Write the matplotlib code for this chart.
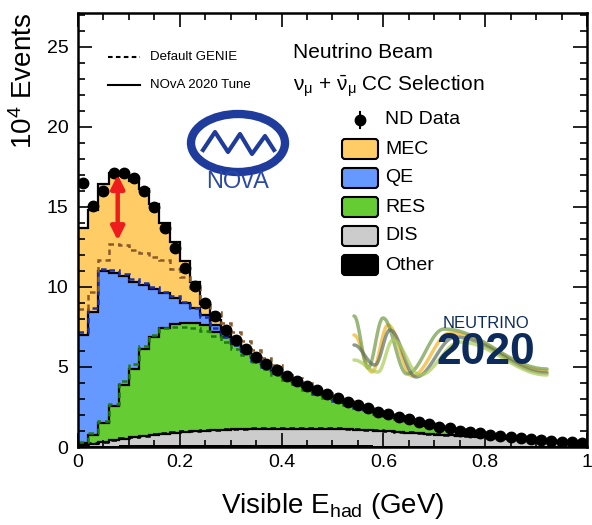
import numpy as np
import matplotlib
matplotlib.use("Agg")
import matplotlib.pyplot as plt
from matplotlib.patches import Ellipse, FancyBboxPatch
from matplotlib.ticker import MultipleLocator, FormatStrFormatter

plt.rcParams['font.family'] = ['Liberation Sans', 'DejaVu Sans']
plt.rcParams['mathtext.fontset'] = 'custom'
plt.rcParams['mathtext.rm'] = 'Liberation Sans'
plt.rcParams['mathtext.it'] = 'Liberation Sans:italic'

# 50 bins of 0.02 GeV in visible hadronic energy
edges = np.linspace(0.0, 1.0, 51)
centers = 0.5 * (edges[:-1] + edges[1:])

# ND data, 10^4 events
nd_data = [16.5, 15.06, 15.96, 17.14, 17.1, 16.77, 15.96, 14.96, 13.7, 12.4,
           11.2, 10.08, 9.02, 8.15, 7.33, 6.7, 6.15, 5.63, 5.18, 4.81,
           4.44, 4.12, 3.81, 3.56, 3.31, 3.04, 2.83, 2.62, 2.42, 2.21,
           2.04, 1.9, 1.73, 1.56, 1.42, 1.27, 1.17, 1.02, 0.96, 0.85,
           0.78, 0.70, 0.63, 0.56, 0.50, 0.44, 0.39, 0.34, 0.30, 0.27]

# NOvA 2020 tune, per component
other = [0.02, 0.04, 0.06, 0.08, 0.10, 0.11, 0.12, 0.13, 0.14, 0.15,
         0.15, 0.15, 0.15, 0.15, 0.15, 0.14, 0.14, 0.14, 0.13, 0.13,
         0.13, 0.12, 0.12, 0.12, 0.11, 0.11, 0.10, 0.10, 0.10, 0.09,
         0.09, 0.09, 0.08, 0.08, 0.08, 0.07, 0.07, 0.07, 0.06, 0.06,
         0.06, 0.05, 0.05, 0.05, 0.05, 0.04, 0.04, 0.04, 0.03, 0.03]
dis = [0.08, 0.16, 0.24, 0.34, 0.42, 0.49, 0.56, 0.63, 0.69, 0.75,
       0.80, 0.85, 0.88, 0.91, 0.93, 0.96, 0.98, 0.99, 1.01, 1.02,
       1.02, 1.03, 1.03, 1.03, 1.03, 1.02, 1.01, 0.98, 0.95, 0.92,
       0.88, 0.84, 0.81, 0.77, 0.73, 0.70, 0.67, 0.63, 0.61, 0.58,
       0.54, 0.51, 0.47, 0.43, 0.39, 0.36, 0.32, 0.28, 0.25, 0.21]
res = [0.15, 0.55, 1.18, 2.14, 3.38, 4.30, 5.42, 6.09, 6.57, 6.80,
       6.82, 6.77, 6.57, 6.14, 5.77, 5.35, 4.88, 4.42, 3.98, 3.58,
       3.21, 2.88, 2.58, 2.30, 2.06, 1.83, 1.63, 1.45, 1.29, 1.15,
       1.02, 0.90, 0.79, 0.68, 0.58, 0.49, 0.40, 0.34, 0.27, 0.21,
       0.16, 0.12, 0.09, 0.06, 0.04, 0.03, 0.02, 0.01, 0.01, 0.01]
qe = [6.75, 7.70, 9.48, 8.29, 6.75, 5.43, 4.00, 3.00, 2.20, 1.60,
      1.21, 0.90, 0.65, 0.40, 0.20, 0.05, 0.05, 0.05, 0.04, 0.04,
      0.03, 0.03, 0.03, 0.03, 0.03, 0.02, 0.02, 0.02, 0.02, 0.02,
      0.02, 0.02, 0.02, 0.02, 0.02, 0.02, 0.02, 0.01, 0.01, 0.01,
      0.01, 0.01, 0.01, 0.01, 0.01, 0.01, 0.01, 0.01, 0.01, 0.01]
mec = [6.70, 6.35, 5.44, 6.25, 6.35, 6.27, 6.00, 5.35, 4.40, 3.50,
       2.62, 1.63, 0.65, 0.35, 0.10, 0.10, 0.05, 0.05, 0.04, 0.03,
       0.03, 0.02, 0.02, 0.02, 0.02, 0.02, 0.02, 0.02, 0.02, 0.02,
       0.01, 0.01, 0.01, 0.01, 0.01, 0.01, 0.01, 0.01, 0.01, 0.01,
       0.01, 0.01, 0.01, 0.01, 0.01, 0.01, 0.01, 0.01, 0.01, 0.01]

# Default GENIE, per component (other is shared)
genie_dis = [0.11, 0.19, 0.27, 0.37, 0.45, 0.52, 0.59, 0.66, 0.72, 0.78,
             0.83, 0.88, 0.91, 0.94, 0.96, 0.99, 1.01, 1.02, 1.04, 1.05,
             1.05, 1.06, 1.06, 1.06, 1.06, 1.05, 1.04, 1.01, 0.98, 0.95,
             0.91, 0.87, 0.84, 0.80, 0.76, 0.73, 0.70, 0.66, 0.64, 0.61,
             0.57, 0.54, 0.50, 0.46, 0.42, 0.39, 0.35, 0.31, 0.28, 0.24]
genie_res = [0.17, 0.62, 1.27, 2.25, 3.55, 4.57, 5.59, 6.21, 6.59, 6.57,
             6.52, 6.39, 6.19, 5.81, 5.44, 5.02, 4.57, 4.14, 3.73, 3.34,
             2.99, 2.67, 2.38, 2.12, 1.89, 1.67, 1.48, 1.31, 1.16, 1.03,
             0.91, 0.80, 0.70, 0.61, 0.52, 0.44, 0.37, 0.31, 0.25, 0.20,
             0.15, 0.11, 0.08, 0.06, 0.04, 0.03, 0.02, 0.01, 0.01, 0.01]
genie_qe = [6.90, 7.85, 9.50, 8.35, 6.70, 5.30, 3.95, 3.00, 2.25, 1.90,
            1.55, 1.28, 0.85, 0.50, 0.30, 0.20, 0.13, 0.10, 0.08, 0.08,
            0.07, 0.06, 0.05, 0.04, 0.04, 0.03, 0.03, 0.02, 0.02, 0.02,
            0.02, 0.02, 0.02, 0.01, 0.01, 0.01, 0.01, 0.01, 0.01, 0.01,
            0.01, 0.01, 0.01, 0.01, 0.01, 0.01, 0.01, 0.01, 0.01, 0.01]
genie_mec = [1.40, 1.00, 0.60, 1.65, 1.80, 1.80, 1.85, 1.85, 1.95, 1.70,
             1.55, 1.20, 1.10, 1.05, 0.90, 0.80, 0.75, 0.65, 0.57, 0.50,
             0.46, 0.42, 0.37, 0.32, 0.28, 0.26, 0.23, 0.22, 0.20, 0.18,
             0.16, 0.14, 0.12, 0.11, 0.10, 0.09, 0.06, 0.05, 0.03, 0.02,
             0.01, 0.01, 0.01, 0.01, 0.01, 0.01, 0.01, 0.01, 0.01, 0.01]

labels = ['Other', 'DIS', 'RES', 'QE', 'MEC']
fill_colors = ['black', '#cccccc', '#66cc33', '#6699ff', '#ffcc66']

fig = plt.figure(figsize=(5.92, 5.25), dpi=100)
ax = fig.add_axes([78 / 592, 1 - 447 / 525, 509 / 592, 434 / 525])

# tuned stack
base = np.zeros(len(centers))
tops = []
for comp, col in zip([other, dis, res, qe, mec], fill_colors):
    top = base + np.array(comp)
    ax.stairs(top, edges, baseline=base, fill=True, color=col, lw=0, zorder=1)
    tops.append(top)
    base = top
for top in tops[1:]:
    ax.stairs(top, edges, baseline=None, color='black', lw=1.6, zorder=2)

# default GENIE dashed levels
g = np.array(other) + np.array(genie_dis)
dash_levels = []
for comp in [genie_res, genie_qe, genie_mec]:
    dash_levels.append(g)
    g = g + np.array(comp)
dash_levels.append(g)
dash_colors = ['black', '#1f7a12', '#1a2fa8', '#8a5a2a']
for lev, col in zip(dash_levels, dash_colors):
    ax.stairs(lev, edges, baseline=None, color=col, lw=1.8,
              linestyle=(0, (2.2, 1.6)), zorder=2.2)

ax.plot(centers, nd_data, 'o', color='black', ms=7.5, zorder=4)

# red arrow: tune vs default at the peak
ax.annotate('', xy=(0.078, 12.9), xytext=(0.078, 17.0),
            arrowprops=dict(arrowstyle='<|-|>', color='#ee1c1c', lw=3.2,
                            mutation_scale=20, shrinkA=0, shrinkB=0),
            zorder=5)

ax.set_xlim(0, 1)
ax.set_ylim(0, 27.1)
ax.xaxis.set_major_locator(MultipleLocator(0.2))
ax.xaxis.set_minor_locator(MultipleLocator(0.05))
ax.yaxis.set_major_locator(MultipleLocator(5))
ax.yaxis.set_minor_locator(MultipleLocator(1))
ax.xaxis.set_major_formatter(FormatStrFormatter('%g'))
ax.tick_params(which='both', direction='in', top=True, right=True, width=1.2)
ax.tick_params(which='major', length=10, labelsize=14)
ax.tick_params(which='minor', length=5)
ax.tick_params(axis='x', pad=5)
ax.tick_params(axis='y', pad=7)
for s in ax.spines.values():
    s.set_linewidth(1.8)
ax.set_ylabel('10$^{4}$ Events', fontsize=20, loc='top')
ax.yaxis.set_label_coords(-0.078, 1.0)
ax.set_xlabel(r'Visible E$_{\mathregular{had}}$ (GeV)', fontsize=20)
ax.xaxis.set_label_coords(0.5, -0.102)

# overlay in pixel coordinates for legends and logos
ov = fig.add_axes([0, 0, 1, 1], zorder=10)
ov.set_xlim(0, 592)
ov.set_ylim(525, 0)
ov.axis('off')
ov.patch.set_alpha(0)

ov.plot([108, 140], [57, 57], color='black', lw=1.5, linestyle=(0, (2.2, 1.6)))
ov.text(150, 57, 'Default GENIE', fontsize=9.5, va='center')
ov.plot([108, 140], [85, 85], color='black', lw=1.5)
ov.text(150, 85, 'NOvA 2020 Tune', fontsize=9.5, va='center')

ov.text(293, 52, 'Neutrino Beam', fontsize=15, va='center')
ov.text(293, 86, r'$\mathregular{\nu_{\mu}}$ + $\mathregular{\bar{\nu}_{\mu}}$ CC Selection',
        fontsize=15, va='center')

ov.plot([360, 360], [112, 128], color='black', lw=1.5)
ov.plot(360, 120, 'o', color='black', ms=7.5)
ov.text(385, 120, 'ND Data', fontsize=14, va='center')
for i, (lab, col) in enumerate(zip(labels[::-1], fill_colors[::-1])):
    yc = 149 + 29 * i
    ov.add_patch(FancyBboxPatch((342, yc - 10), 36, 20,
                                boxstyle='round,pad=0,rounding_size=3',
                                fc=col, ec='black', lw=1.5))
    ov.text(385, yc, lab, fontsize=14, va='center')

# NOvA logo (approximate)
nova_blue = '#1f3c9c'
ov.add_patch(Ellipse((238, 143), 94, 58, fill=False, ec=nova_blue, lw=6))
ov.plot([203, 215, 228, 240, 252, 265, 274], [150, 132, 152, 134, 154, 136, 150],
        color=nova_blue, lw=3)
ov.text(238, 182, 'NOvA', fontsize=17, color='#2b4aa8', ha='center', va='center')

# Neutrino 2020 logo (approximate)
waves = [
    ('#f0b323', [(354, 335), (372, 372), (388, 325), (412, 376), (450, 333), (547, 371)]),
    ('#6f9a45', [(354, 316), (368, 368), (383, 318), (407, 374), (444, 329), (547, 369)]),
    ('#5f7060', [(354, 345), (375, 365), (390, 330), (416, 377), (455, 337), (547, 373)]),
    ('#a9cc55', [(354, 360), (378, 372), (393, 340), (420, 375), (460, 342), (547, 375)]),
]
for col, pts in waves:
    xs, ys = [], []
    for (x0, y0), (x1, y1) in zip(pts[:-1], pts[1:]):
        t = np.linspace(0, 1, 20)
        xs.extend(x0 + (x1 - x0) * t)
        ys.extend(y0 + (y1 - y0) * (1 - np.cos(np.pi * t)) / 2)
    ov.plot(xs, ys, color=col, lw=2.5, alpha=0.7, solid_capstyle='round')
navy = '#0d2b5a'
ov.text(486, 323, 'NEUTRINO', fontsize=12, color=navy, ha='center', va='center')
ov.text(486, 353, '2020', fontsize=32, color=navy, ha='center', va='center',
        fontweight='bold')

fig.savefig('out.png', dpi=100)
